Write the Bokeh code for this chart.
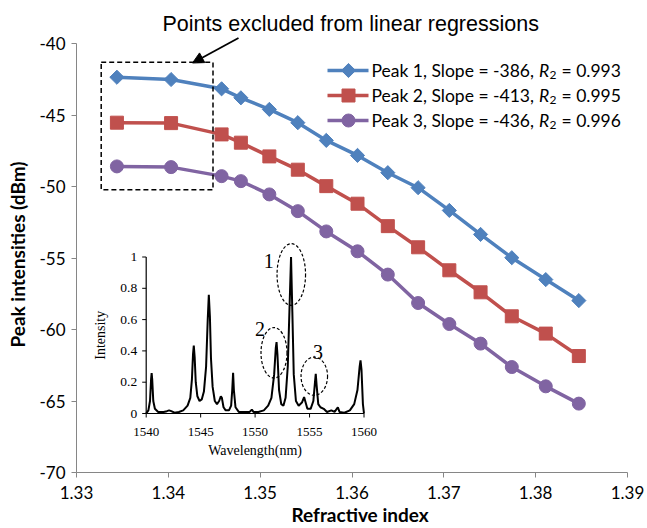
import numpy as np
from bokeh.plotting import figure
from bokeh.models import Range1d, FixedTicker, Arrow, NormalHead, Title
from bokeh.core.properties import value
from bokeh.embed import file_html
from bokeh.resources import INLINE

# ---------------- data ----------------
refractive_index = [1.3344, 1.3403, 1.3458, 1.3479, 1.3510, 1.3541, 1.3572, 1.3606,
                    1.3639, 1.3672, 1.3706, 1.3740, 1.3774, 1.3811, 1.3847]
peak1_dbm = [-42.34, -42.50, -43.15, -43.78, -44.59, -45.52, -46.76, -47.81,
             -49.02, -50.07, -51.66, -53.34, -54.97, -56.50, -57.97]
peak2_dbm = [-45.52, -45.55, -46.34, -46.92, -47.88, -48.81, -49.96, -51.19,
             -52.76, -54.24, -55.85, -57.39, -59.07, -60.28, -61.85]
peak3_dbm = [-48.58, -48.63, -49.26, -49.61, -50.54, -51.71, -53.13, -54.52,
             -56.15, -58.14, -59.61, -60.98, -62.62, -63.97, -65.18]
series_names = ["Peak 1", "Peak 2", "Peak 3"]
slopes = [-386, -413, -436]
r2_values = ["0.993", "0.995", "0.996"]
x_ticks = [1.33, 1.34, 1.35, 1.36, 1.37, 1.38, 1.39]
x_tick_labels = ["1.33", "1.34", "1.35", "1.36", "1.37", "1.38", "1.39"]
y_ticks = [-70, -65, -60, -55, -50, -45, -40]
y_tick_labels = ["-70", "-65", "-60", "-55", "-50", "-45", "-40"]

spectrum_wavelength_nm = [
    1540.0, 1540.2, 1540.35, 1540.45, 1540.5, 1540.55, 1540.65, 1540.8, 1541.1, 1541.6,
    1541.9, 1542.1, 1542.3, 1542.6, 1543.0, 1543.4, 1543.8, 1544.05, 1544.2, 1544.3,
    1544.37, 1544.45, 1544.55, 1544.7, 1544.9, 1545.1, 1545.3, 1545.5, 1545.65, 1545.75,
    1545.85, 1545.95, 1546.1, 1546.3, 1546.5, 1546.7, 1546.85, 1546.95, 1547.1, 1547.3,
    1547.6, 1547.8, 1547.9, 1547.98, 1548.05, 1548.2, 1548.5, 1549.0, 1549.5, 1549.7,
    1549.85, 1550.3, 1550.8, 1551.2, 1551.5, 1551.75, 1551.9, 1551.97, 1552.05, 1552.2,
    1552.4, 1552.6, 1552.8, 1553.0, 1553.15, 1553.3, 1553.42, 1553.55, 1553.75, 1554.0,
    1554.3, 1554.5, 1554.6, 1554.8, 1555.1, 1555.35, 1555.5, 1555.57, 1555.65, 1555.8,
    1556.0, 1556.3, 1556.6, 1557.0, 1557.3, 1557.6, 1557.75, 1558.2, 1558.7, 1559.1,
    1559.4, 1559.6, 1559.68, 1559.77, 1559.9, 1560.0]
spectrum_intensity = [
    0.00, 0.02, 0.08, 0.22, 0.258, 0.22, 0.08, 0.03, 0.01, 0.01,
    0.015, 0.02, 0.015, 0.005, 0.01, 0.02, 0.05, 0.10, 0.22, 0.38,
    0.434, 0.36, 0.20, 0.11, 0.08, 0.09, 0.14, 0.30, 0.60, 0.758,
    0.62, 0.35, 0.17, 0.08, 0.06, 0.08, 0.11, 0.10, 0.04, 0.02,
    0.02, 0.05, 0.15, 0.26, 0.15, 0.04, 0.01, 0.01, 0.01, 0.025,
    0.01, 0.01, 0.02, 0.05, 0.10, 0.25, 0.42, 0.456, 0.38, 0.15,
    0.06, 0.05, 0.10, 0.30, 0.65, 1.00, 0.65, 0.25, 0.08, 0.05,
    0.07, 0.105, 0.08, 0.03, 0.03, 0.08, 0.20, 0.254, 0.18, 0.06,
    0.04, 0.03, 0.01, 0.02, 0.01, 0.04, 0.01, 0.005, 0.02, 0.06,
    0.15, 0.30, 0.339, 0.28, 0.06, 0.00]
inset_x_ticks = [1540, 1545, 1550, 1555, 1560]
inset_y_ticks = [0, 0.2, 0.4, 0.6, 0.8, 1]
inset_y_labels = ["0", "0.2", "0.4", "0.6", "0.8", "1"]
peak_tags = ["1", "2", "3"]

# ---------------- layout helpers (reference pixel -> data) ----------------
W, H = 647, 528
REF_X0, REF_X1 = 76.0, 627.0     # pixel of x = 1.33 and 1.39
REF_Y0, REF_Y1 = 43.3, 472.0     # pixel of y = -40 and -70
FRAME_TOP = 36
DX = 0.06 / (REF_X1 - REF_X0)
DY = 30.0 / (REF_Y1 - REF_Y0)


def rx(px):
    return 1.33 + (px - REF_X0) * DX


def ry(py):
    return -40.0 - (py - REF_Y0) * DY


colors = ["#4F81BD", "#C0504D", "#8064A2"]
FONT = "Lato"

p = figure(width=W, height=H, x_range=Range1d(1.33, 1.39), y_range=Range1d(-70, ry(FRAME_TOP)),
           output_backend="svg", toolbar_location=None,
           min_border_left=int(REF_X0), min_border_right=int(W - REF_X1),
           min_border_top=FRAME_TOP, min_border_bottom=int(H - REF_Y1))
p.outline_line_color = None
p.grid.visible = False
p.background_fill_color = "white"
p.border_fill_color = "white"

# top annotation text
p.add_layout(Title(text="Points excluded from linear regressions", align="left", offset=86,
                   text_font="Liberation Sans", text_font_size="21.5px", text_font_style="normal",
                   text_color="#000000", standoff=1), "above")
# x axis title
p.add_layout(Title(text="Refractive index", align="left", offset=215, text_font=FONT,
                   text_font_size="19px", text_font_style="bold", text_color="#000000",
                   standoff=-1), "below")

for ax in (p.xaxis[0], p.yaxis[0]):
    ax.axis_line_color = "#868686"
    ax.major_tick_line_color = "#868686"
    ax.minor_tick_line_color = None
    ax.major_tick_out = 5
    ax.major_tick_in = 0
    ax.major_label_text_font = FONT
    ax.major_label_text_font_size = "17px"
    ax.major_label_text_color = "#000000"

p.xaxis.ticker = FixedTicker(ticks=x_ticks)
p.xaxis.major_label_overrides = dict(zip(x_ticks, x_tick_labels))
p.xaxis.bounds = (x_ticks[0], x_ticks[-1])
p.xaxis.major_label_standoff = 8
p.yaxis.ticker = FixedTicker(ticks=y_ticks)
p.yaxis.major_label_overrides = dict(zip(y_ticks, y_tick_labels))
p.yaxis.bounds = (y_ticks[0], y_ticks[-1])
p.yaxis.major_label_standoff = 6
p.yaxis.axis_label = "Peak intensities (dBm)"
p.yaxis.axis_label_text_font = FONT
p.yaxis.axis_label_text_font_style = "bold"
p.yaxis.axis_label_text_font_size = "19px"
p.yaxis.axis_label_text_color = "#000000"
p.yaxis.axis_label_standoff = 7

# ---------------- series ----------------
series = [peak1_dbm, peak2_dbm, peak3_dbm]
markers = [dict(marker="square", angle=np.pi / 4, size=10),
           dict(marker="square", angle=0, size=13),
           dict(marker="circle", angle=0, size=13)]
for vals, col, mk in zip(series, colors, markers):
    p.line(refractive_index, vals, line_color=col, line_width=3.5)
    p.scatter(refractive_index, vals, fill_color=col, line_color=col, line_width=1, **mk)

# ---------------- excluded points box + arrow ----------------
p.quad(left=rx(100.7), right=rx(212.5), top=ry(61.7), bottom=ry(189.3),
       fill_color=None, line_color="black", line_dash="5 3", line_width=1.5)
p.add_layout(Arrow(end=NormalHead(size=11, fill_color="black", line_color="black"),
                   x_start=rx(238), y_start=ry(37.5), x_end=rx(192), y_end=ry(62.5),
                   line_color="black", line_width=1.8))

# ---------------- legend ----------------
rows = [70, 95, 120]
for name, slope, r2, col, mk, yrow in zip(series_names, slopes, r2_values, colors, markers, rows):
    yy = ry(yrow)
    p.line([rx(327), rx(368)], [yy, yy], line_color=col, line_width=3.5)
    p.scatter([rx(348)], [yy], fill_color=col, line_color=col, line_width=1, **mk)
    p.text(x=[rx(371)], y=[yy], text=[f"{name}, Slope = {slope}, "], text_font=value(FONT),
           text_font_size="17.5px", text_baseline="middle", text_align="left", text_color="#000000")
    p.text(x=[rx(538.5)], y=[yy], text=["R"], text_font=value(FONT), text_font_style=value("italic"),
           text_font_size="17.5px", text_baseline="middle", text_align="left", text_color="#000000")
    p.text(x=[rx(549)], y=[ry(yrow + 4)], text=["2"], text_font=value(FONT),
           text_font_size="12px", text_baseline="middle", text_align="left", text_color="#000000")
    p.text(x=[rx(561)], y=[yy], text=[f"= {r2}"], text_font=value(FONT),
           text_font_size="17.5px", text_baseline="middle", text_align="left", text_color="#000000")

# ---------------- inset spectrum ----------------
IX0, IX1 = 145.7, 363.5   # pixel of 1540 and 1560 nm
IY0, IY1 = 413.0, 256.5   # pixel of intensity 0 and 1
ux = (inset_x_ticks[-1] - inset_x_ticks[0]) / (IX1 - IX0)
uy = 1.0 / (IY0 - IY1)
inset = p.subplot(x_source=Range1d(inset_x_ticks[0], inset_x_ticks[-1]), y_source=Range1d(0, 1),
                  x_target=Range1d(rx(IX0), rx(IX1)), y_target=Range1d(ry(IY0), ry(IY1)))
inset.line(spectrum_wavelength_nm, spectrum_intensity, line_color="black", line_width=2)
# inset axes
inset.line([inset_x_ticks[0], inset_x_ticks[-1]], [0, 0], line_color="black", line_width=1.2)
inset.line([inset_x_ticks[0], inset_x_ticks[0]], [inset_y_ticks[0], inset_y_ticks[-1]],
           line_color="black", line_width=1.2)
inset.segment(x0=inset_x_ticks, y0=[0] * len(inset_x_ticks), x1=inset_x_ticks,
              y1=[-4 * uy] * len(inset_x_ticks), line_color="black", line_width=1)
inset.segment(x0=[inset_x_ticks[0]] * len(inset_y_ticks), y0=inset_y_ticks,
              x1=[inset_x_ticks[0] - 4 * ux] * len(inset_y_ticks), y1=inset_y_ticks,
              line_color="black", line_width=1)
inset.text(x=inset_x_ticks, y=[-18 * uy] * len(inset_x_ticks), text=[str(t) for t in inset_x_ticks],
           text_font=value("Liberation Serif"), text_font_size="13px", text_align="center",
           text_baseline="middle", text_color="#000000")
inset.text(x=[inset_x_ticks[0] - 9 * ux] * len(inset_y_ticks), y=inset_y_ticks, text=inset_y_labels,
           text_font=value("Liberation Serif"), text_font_size="13.5px", text_align="right",
           text_baseline="middle", text_color="#000000")
inset.text(x=[(inset_x_ticks[0] + inset_x_ticks[-1]) / 2], y=[-37 * uy], text=["Wavelength(nm)"],
           text_font=value("Liberation Serif"), text_font_size="14px", text_align="center",
           text_baseline="middle", text_color="#000000")
inset.text(x=[inset_x_ticks[0] - 46 * ux], y=[0.5], text=["Intensity"], angle=np.pi / 2,
           text_font=value("Liberation Serif"), text_font_size="14px", text_align="center",
           text_baseline="middle", text_color="#000000")

# dashed ellipses around the three peaks and their tags
ell_c = [(290.8, 274.0, 28.5, 61.7), (273.5, 352.3, 26.0, 50.5), (313.8, 375.7, 26.5, 38.2)]
tag_pos = [(268.3, 260.0), (259.5, 328.0), (317.5, 351.5)]
p.ellipse(x=[rx(c[0]) for c in ell_c], y=[ry(c[1]) for c in ell_c],
          width=[c[2] * DX for c in ell_c], height=[c[3] * DY for c in ell_c],
          fill_color=None, line_color="black", line_dash="3 2", line_width=1.2)
p.text(x=[rx(t[0]) for t in tag_pos], y=[ry(t[1]) for t in tag_pos], text=peak_tags,
       text_font=value("Liberation Serif"), text_font_size="20px", text_align="center",
       text_baseline="middle", text_color="#000000")

open("out.html", "w").write(file_html(p, INLINE))
